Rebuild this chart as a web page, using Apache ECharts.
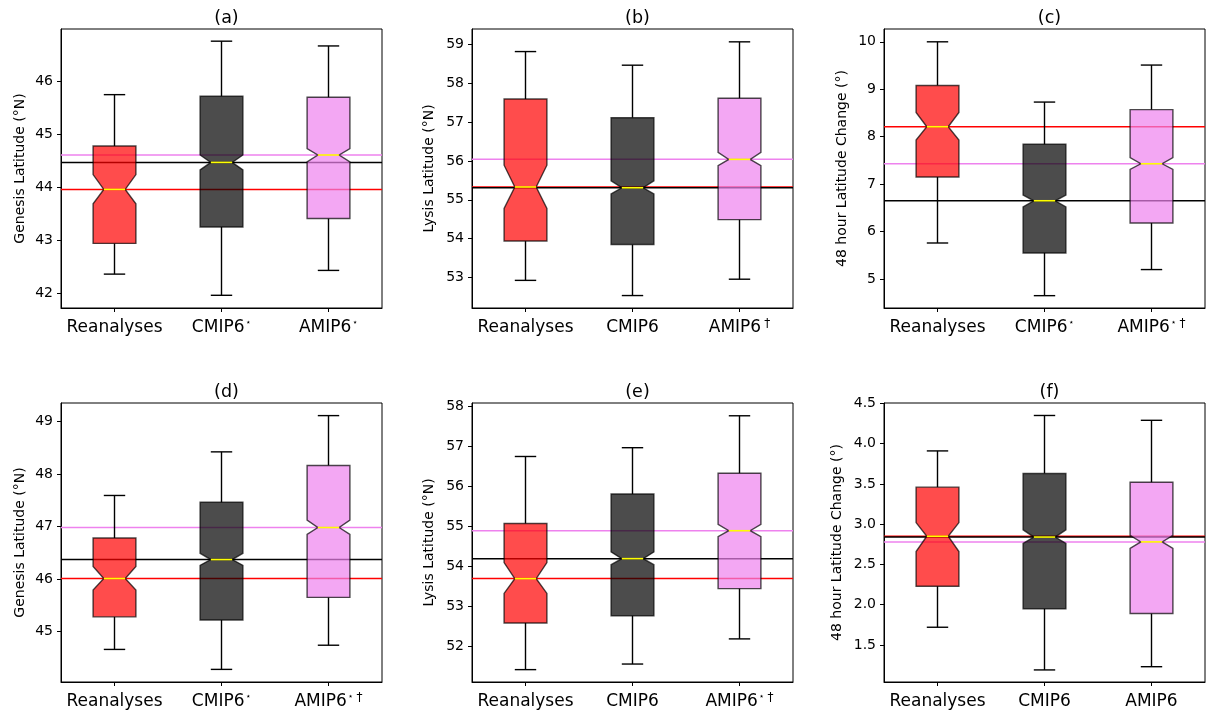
<!DOCTYPE html>
<html>
<head>
<meta charset="utf-8">
<script src="https://cdn.jsdelivr.net/npm/echarts@6/dist/echarts.min.js"></script>
<style>
html,body{margin:0;padding:0;background:#fff;}
#chart{width:1208px;height:713px;}
</style>
</head>
<body>
<div id="chart"></div>
<script>
// ---------- data ----------
const categories = ['Reanalyses', 'CMIP6', 'AMIP6'];
const panelTitles = ['(a)', '(b)', '(c)', '(d)', '(e)', '(f)'];
const yNames = ['Genesis Latitude (°N)', 'Lysis Latitude (°N)', '48 hour Latitude Change (°)',
                'Genesis Latitude (°N)', 'Lysis Latitude (°N)', '48 hour Latitude Change (°)'];
// superscript marks per panel per category
const starMarks = [['', '⋆', '⋆'], ['', '', ''], ['', '⋆', '⋆'], ['', '⋆', '⋆'], ['', '', '⋆'], ['', '', '']];
const daggerMarks = [['', '', ''], ['', '', '†'], ['', '', '†'], ['', '', '†'], ['', '', '†'], ['', '', '']];

// box stats: [whiskerLow, q1, notchLow, median, notchHigh, q3, whiskerHigh] for Reanalyses, CMIP6, AMIP6
const statsA = [[42.36, 42.94, 43.69, 43.96, 44.24, 44.78, 45.75],
                [41.96, 43.25, 44.33, 44.47, 44.61, 45.72, 46.76],
                [42.43, 43.41, 44.48, 44.61, 44.73, 45.70, 46.67]];
const statsB = [[52.93, 53.94, 54.78, 55.33, 55.89, 57.59, 58.81],
                [52.54, 53.85, 55.15, 55.31, 55.49, 57.11, 58.46],
                [52.96, 54.49, 55.88, 56.04, 56.22, 57.61, 59.06]];
const statsC = [[5.76, 7.15, 7.93, 8.21, 8.51, 9.08, 10.00],
                [4.65, 5.55, 6.52, 6.65, 6.77, 7.84, 8.73],
                [5.20, 6.18, 7.31, 7.43, 7.56, 8.57, 9.51]];
const statsD = [[44.66, 45.28, 45.79, 46.01, 46.24, 46.78, 47.59],
                [44.28, 45.22, 46.26, 46.37, 46.49, 47.46, 48.42],
                [44.74, 45.65, 46.85, 46.98, 47.12, 48.16, 49.11]];
const statsE = [[51.41, 52.58, 53.32, 53.69, 54.09, 55.07, 56.75],
                [51.55, 52.76, 54.04, 54.19, 54.36, 55.81, 56.97],
                [52.18, 53.44, 54.74, 54.89, 55.05, 56.33, 57.77]];
const statsF = [[1.72, 2.23, 2.66, 2.85, 3.02, 3.46, 3.91],
                [1.19, 1.95, 2.76, 2.84, 2.93, 3.63, 4.35],
                [1.23, 1.89, 2.70, 2.78, 2.86, 3.52, 4.29]];
const allStats = [statsA, statsB, statsC, statsD, statsE, statsF];

// axis limits and tick labels
const yMin = [41.72, 52.22, 4.39, 44.04, 51.10, 1.04];
const yMax = [46.99, 59.39, 10.27, 49.35, 58.09, 4.505];
const yTicks = [[42, 43, 44, 45, 46],
                [53, 54, 55, 56, 57, 58, 59],
                [5, 6, 7, 8, 9, 10],
                [45, 46, 47, 48, 49],
                [52, 53, 54, 55, 56, 57, 58],
                [1.5, 2.0, 2.5, 3.0, 3.5, 4.0, 4.5]];
const yDecimals = [0, 0, 0, 0, 0, 1];

// ---------- layout / style ----------
const FONT = 'DejaVu Sans';
const gridLefts = [61, 472, 884];
const gridTops = [29, 403];
const gridW = 321, gridH = 279;
const nameGaps = [34, 36, 35, 34, 36, 40];
const fills = ['rgba(255,0,0,0.7)', 'rgba(0,0,0,0.7)', 'rgba(238,130,238,0.7)'];
const lineColors = ['#ff0000', '#000000', '#ee82ee'];

const chart = echarts.init(document.getElementById('chart'), null, {renderer: 'canvas'});

function renderBox(params, api) {
  const i = api.value(0);
  const band = api.size([1, 0])[0];
  const w = band * 0.4;
  const x = api.coord([i, 0])[0];
  const y = k => api.coord([i, api.value(k)])[1];
  const wl = y(1), q1 = y(2), nl = y(3), md = y(4), nh = y(5), q3 = y(6), wh = y(7);
  const L = x - w / 2, R = x + w / 2, nL = x - w / 4, nR = x + w / 4;
  const black = {stroke: '#000', lineWidth: 1.4};
  return {
    type: 'group',
    children: [
      {type: 'line', shape: {x1: x, y1: q1, x2: x, y2: wl}, style: black},
      {type: 'line', shape: {x1: x, y1: q3, x2: x, y2: wh}, style: black},
      {type: 'line', shape: {x1: nL, y1: wl, x2: nR, y2: wl}, style: black},
      {type: 'line', shape: {x1: nL, y1: wh, x2: nR, y2: wh}, style: black},
      {type: 'polygon',
       shape: {points: [[L, q1], [R, q1], [R, nl], [nR, md], [R, nh], [R, q3],
                        [L, q3], [L, nh], [nL, md], [L, nl]]},
       style: {fill: fills[i], stroke: 'rgba(0,0,0,0.7)', lineWidth: 1.4}},
      {type: 'line', shape: {x1: nL, y1: md, x2: nR, y2: md},
       style: {stroke: '#ffff00', lineWidth: 1.6}}
    ]
  };
}

function renderHLine(params, api) {
  const i = api.value(0);
  const yv = api.coord([0, api.value(1)])[1];
  const cs = params.coordSys;
  return {type: 'line', shape: {x1: cs.x, y1: yv, x2: cs.x + cs.width, y2: yv},
          style: {stroke: lineColors[i], lineWidth: 1.5}};
}

const grids = [], xAxes = [], yAxes = [], series = [], titles = [];
for (let p = 0; p < 6; p++) {
  const col = p % 3, row = Math.floor(p / 3);
  grids.push({left: gridLefts[col], top: gridTops[row], width: gridW, height: gridH,
              show: true, borderColor: '#000', borderWidth: 1, backgroundColor: 'transparent'});
  titles.push({text: panelTitles[p], left: gridLefts[col] + gridW / 2, top: gridTops[row] - 25,
               textAlign: 'center',
               textStyle: {fontFamily: FONT, fontSize: 17.5, fontWeight: 'normal', color: '#000'}});
  xAxes.push({
    type: 'category', gridIndex: p, data: categories,
    axisLine: {show: true, lineStyle: {color: '#000', width: 1}},
    axisTick: {show: true, alignWithLabel: true, length: 4, lineStyle: {color: '#000'}},
    axisLabel: {
      interval: 0, margin: 10, color: '#000',
      formatter: (val, idx) => {
        let s = '{m|' + val + '}';
        if (starMarks[p][idx]) s += '{s|' + starMarks[p][idx] + '}';
        if (daggerMarks[p][idx]) s += '{d|' + daggerMarks[p][idx] + '}';
        return s;
      },
      rich: {
        m: {fontFamily: FONT, fontSize: 17, color: '#000', lineHeight: 20},
        s: {fontFamily: FONT, fontSize: 9, color: '#000', verticalAlign: 'top', padding: [0, 0, 0, 1]},
        d: {fontFamily: FONT, fontSize: 12, color: '#000', verticalAlign: 'top', padding: [0, 0, 0, 3]}
      }
    },
    splitLine: {show: false}
  });
  yAxes.push({
    type: 'value', gridIndex: p, min: yMin[p], max: yMax[p],
    name: yNames[p], nameLocation: 'middle', nameGap: nameGaps[p],
    nameTextStyle: {fontFamily: FONT, fontSize: 14, color: '#000'},
    axisLine: {show: true, lineStyle: {color: '#000', width: 1}},
    axisTick: {show: true, length: 4, customValues: yTicks[p], lineStyle: {color: '#000'}},
    axisLabel: {show: true, customValues: yTicks[p], margin: 8, fontFamily: FONT, fontSize: 14, color: '#000',
                formatter: v => Number(v).toFixed(yDecimals[p])},
    splitLine: {show: false}
  });
  const st = allStats[p];
  series.push({
    type: 'custom', xAxisIndex: p, yAxisIndex: p, z: 1, silent: true,
    renderItem: renderHLine,
    data: st.map((s, i) => [i, s[3]])
  });
  series.push({
    type: 'custom', xAxisIndex: p, yAxisIndex: p, z: 2, silent: true,
    renderItem: renderBox,
    encode: {x: 0, y: [1, 2, 3, 4, 5, 6, 7]},
    data: st.map((s, i) => [i].concat(s))
  });
}

chart.setOption({
  animation: false,
  backgroundColor: '#fff',
  title: titles,
  grid: grids,
  xAxis: xAxes,
  yAxis: yAxes,
  series: series
});
</script>
</body>
</html>
